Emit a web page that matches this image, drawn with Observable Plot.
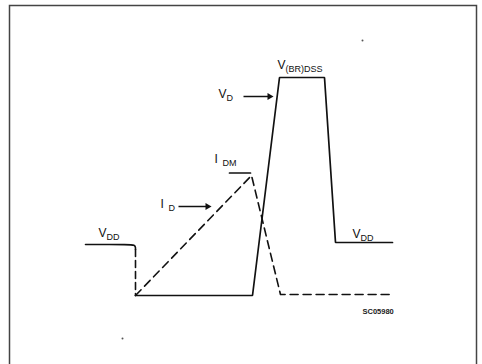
<!DOCTYPE html>
<html><head><meta charset="utf-8">
<script src="https://cdn.jsdelivr.net/npm/d3@7"></script>
<script src="https://cdn.jsdelivr.net/npm/@observablehq/plot@0.6"></script>
<style>body{margin:0;background:#fff}</style>
</head><body><div id="chart"></div>
<script>
// Time axis (arbitrary units, 0 = switch-off) and signal level (arbitrary units)
const vddLeftT = [-50, -4, -1.5, 0, 0];
const vddLeftV = [51, 51, 50.3, 49, 46];
const dropT = [0, 0];
const dropV = [46, 0];
const vdT = [0, 117, 144, 189, 200, 257];
const vdV = [0, 0, 218, 218, 53, 53];
const idT = [0, 116, 145, 257];
const idV = [0, 120, 1, 1];
const idmT = [94, 115];
const idmV = [122.5, 122.5];
// labels
const labelMain = ["V", "I", "I", "V", "V", "V"];
const labelSub = ["DD", "D", "DM", "D", "(BR)DSS", "DD"];
const labelT = [-37, 25, 79, 83, 142, 217];
const labelV = [59, 88, 133, 198, 227, 58];
// pointer arrows
const arrowT1 = [43, 108];
const arrowT2 = [71, 133];
const arrowV = [89, 199];
const noteText = ["SC05980"];
const noteT = [227];
const noteV = [-18];
const speckT = [227, -13];
const speckV = [255, -43];

const pts = (T, V) => T.map((t, i) => ({t, v: V[i]}));
const labels = labelMain.map((m, i) => ({main: m, sub: labelSub[i], t: labelT[i], v: labelV[i]}));
const arrows = arrowT1.map((t, i) => ({t1: t, t2: arrowT2[i], v: arrowV[i]}));

const font = "Liberation Sans, Arial, sans-serif";
const chart = Plot.plot({
  width: 482, height: 364,
  margin: 0,
  x: {domain: [-135, 347], axis: null},
  y: {domain: [-69, 295], axis: null},
  style: {fontFamily: font, background: "#fff"},
  marks: [
    Plot.frame({stroke: "#444", strokeWidth: 1.5, insetLeft: 9, insetTop: 5, insetRight: 6, insetBottom: -10}),
    Plot.line(pts(vddLeftT, vddLeftV), {x: "t", y: "v", stroke: "#111", strokeWidth: 1.6, curve: "basis"}),
    Plot.line(pts(dropT, dropV), {x: "t", y: "v", stroke: "#111", strokeWidth: 1.6, strokeDasharray: "7,4"}),
    Plot.line(pts(vdT, vdV), {x: "t", y: "v", stroke: "#111", strokeWidth: 1.7, strokeLinejoin: "miter"}),
    Plot.line(pts(idT, idV), {x: "t", y: "v", stroke: "#111", strokeWidth: 1.6, strokeDasharray: "8,5"}),
    Plot.line(pts(idmT, idmV), {x: "t", y: "v", stroke: "#111", strokeWidth: 1.7}),
    Plot.link(arrows, {x1: "t1", x2: "t2", y1: "v", y2: "v", stroke: "#111", strokeWidth: 1.5}),
    Plot.dot(arrows, {x: "t2", y: "v", symbol: "triangle", rotate: 90, r: 2.6, fill: "#111", stroke: "none", dx: 1}),
    Plot.text(labels, {x: "t", y: "v", text: "main", textAnchor: "start", lineAnchor: "bottom", fontSize: 12, fill: "#111"}),
    Plot.text(labels, {x: "t", y: "v", text: "sub", textAnchor: "start", lineAnchor: "bottom", fontSize: 9, fill: "#111", dx: 8, dy: 3}),
    Plot.text(pts(noteT, noteV).map((d, i) => ({...d, s: noteText[i]})), {x: "t", y: "v", text: "s", textAnchor: "start", lineAnchor: "bottom", fontSize: 7.5, fontWeight: "bold", fill: "#222"}),
    Plot.dot(pts(speckT, speckV), {x: "t", y: "v", r: 1, fill: "#555", stroke: "none"})
  ]
});
document.getElementById("chart").append(chart);
</script>
</body></html>
